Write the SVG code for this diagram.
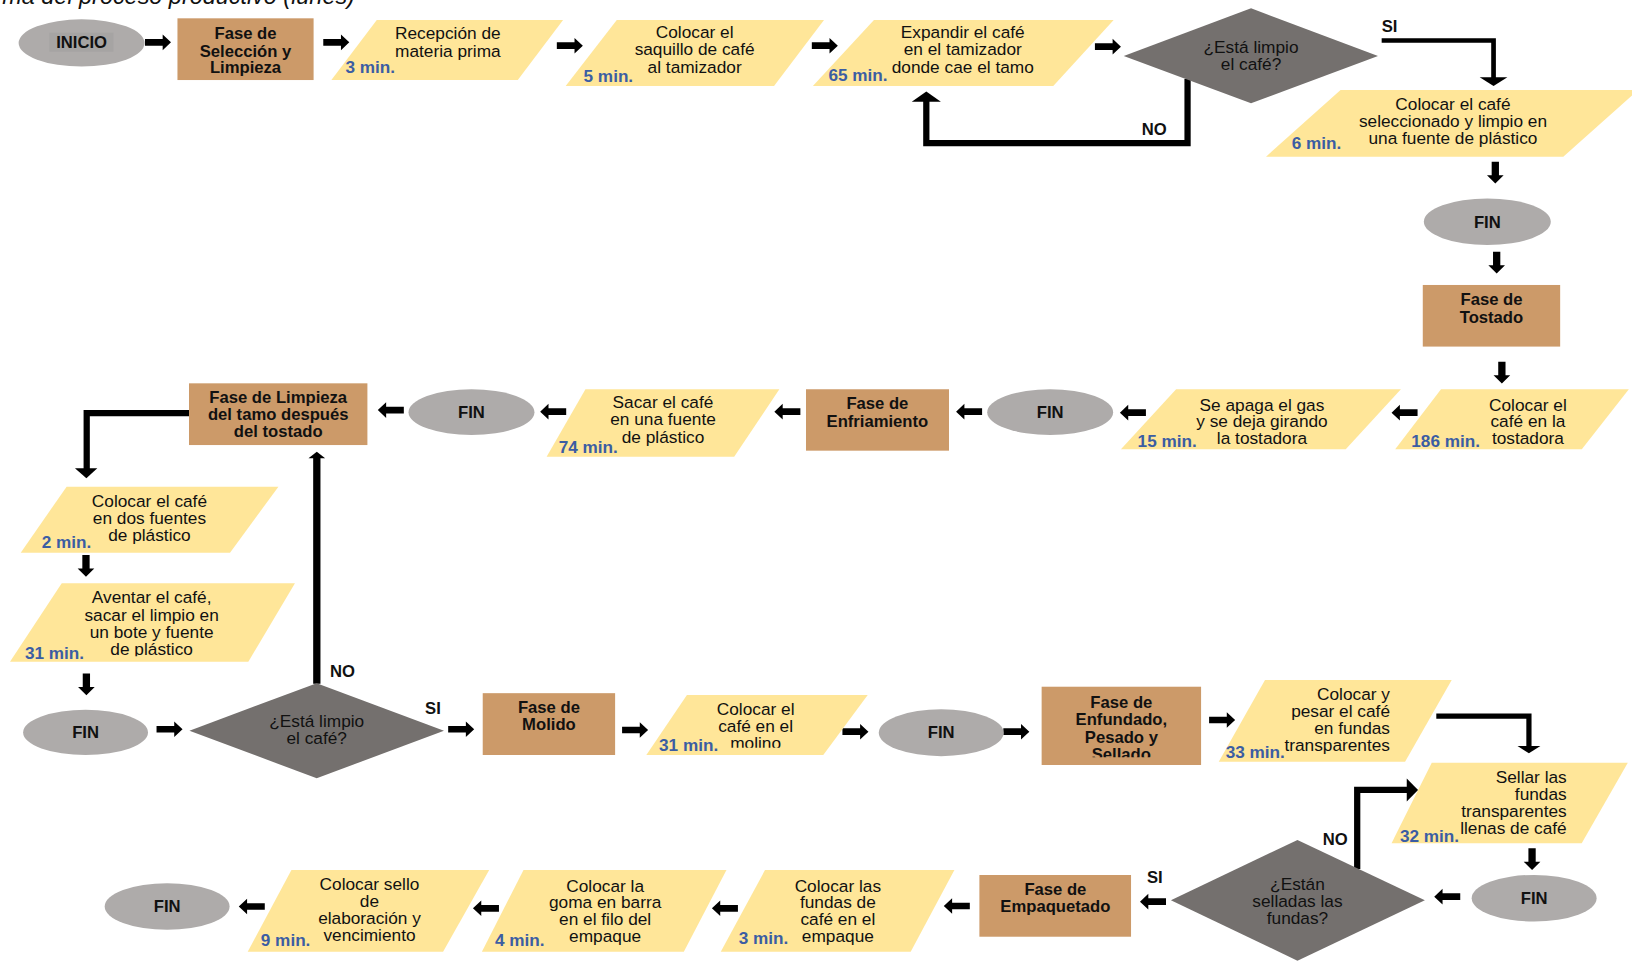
<svg xmlns="http://www.w3.org/2000/svg" width="1632" height="961" viewBox="0 0 1632 961">
<style>
.para{fill:#FFE699}
.box{fill:#CC9A69}
.ell{fill:#AEABAA}
.dia{fill:#74706E}
text{font-family:"Liberation Sans",Arial,Helvetica,sans-serif;fill:#111}
.t{font-size:16.6px;text-anchor:middle}
.te{font-size:16.6px;text-anchor:end}
.b{font-size:16px;font-weight:bold;text-anchor:middle}
.m{font-size:16.5px;font-weight:bold;fill:#3B5DA3}
.lbl{font-size:16px;font-weight:bold}
.ttl{font-size:22.5px;font-style:italic;text-anchor:end}
.ln{fill:none;stroke:#000;stroke-width:6}
.ah{fill:#000}
</style>
<defs>
<path id="aR" d="M0,-3.2 H17 V-7.5 L25,0 L17,7.5 V3.2 H0 Z"/>
<path id="aL" d="M25,-3.2 H8 V-7.5 L0,0 L8,7.5 V3.2 H25 Z"/>
<path id="aD" d="M-3.5,0 V13 H-8 L0,21 L8,13 H3.5 V0 Z"/>
<clipPath id="c1"><rect x="0" y="0" width="1568" height="630.5"/></clipPath>
<clipPath id="c2"><rect x="0" y="0" width="1568" height="718.5"/></clipPath>
<clipPath id="c3"><rect x="0" y="0" width="1568" height="727.6"/></clipPath>
</defs>
<rect x="0" y="0" width="1632" height="961" fill="#fff"/>
<g transform="scale(1.0408)">
<text class="ttl" x="341" y="3.8">ma del proceso productivo (lunes)</text>

<g id="connectors">
<use href="#aR" x="139.3" y="40.7"/>
<use href="#aR" x="310.6" y="40.7"/>
<use href="#aR" x="535" y="43.9"/>
<use href="#aR" x="780" y="43.9"/>
<use href="#aR" x="1052" y="44.8"/>
<use href="#aR" x="150.4" y="700.7"/>
<use href="#aR" x="430.6" y="700.7"/>
<use href="#aR" x="597.7" y="701.4"/>
<use href="#aR" x="809.4" y="703"/>
<use href="#aR" x="964" y="703"/>
<use href="#aR" x="1161.7" y="691.8"/>
<use href="#aL" x="1337" y="396.5"/>
<use href="#aL" x="1076" y="396.5"/>
<use href="#aL" x="918.6" y="395.5"/>
<use href="#aL" x="744" y="395.5"/>
<use href="#aL" x="519" y="395.5"/>
<use href="#aL" x="363" y="394"/>
<use href="#aL" x="1378" y="861.5"/>
<use href="#aL" x="1095.3" y="866.3"/>
<use href="#aL" x="906.8" y="870.5"/>
<use href="#aL" x="684" y="872.7"/>
<use href="#aL" x="454.4" y="872.7"/>
<use href="#aL" x="229.4" y="871"/>
<use href="#aD" x="1436.7" y="155.3"/>
<use href="#aD" x="1438" y="241.8"/>
<use href="#aD" x="1443" y="347.5"/>
<use href="#aD" x="82.6" y="533.2"/>
<use href="#aD" x="83" y="647"/>
<use href="#aD" x="1472" y="815"/>
<path class="ln" style="stroke-width:4.5" d="M1327.5,38.9 H1435 V75"/>
<polygon class="ah" points="1421.7,74.3 1448.3,74.3 1435,82.6"/>
<path class="ln" d="M1141,76 V137.4 H890 V97"/>
<polygon class="ah" points="876,97.7 904,97.7 890,88"/>
<path class="ln" d="M181.6,397 H83.3 V451"/>
<polygon class="ah" points="72,450 93.5,450 83,459.6"/>
<path class="ln" style="stroke-width:7" d="M304.4,657 V440"/>
<polygon class="ah" points="296.4,440.4 312.4,440.4 304.4,434"/>
<path class="ln" style="stroke-width:5" d="M1380,688 H1469 V717"/>
<polygon class="ah" points="1458,716.8 1480,716.8 1469,723.7"/>
<path class="ln" d="M1304,835 V759 H1352"/>
<polygon class="ah" points="1351.6,748 1351.6,770 1362.5,759"/>
<text class="lbl" x="1327.5" y="30.4">SI</text>
<text class="lbl" x="1097" y="129.7">NO</text>
<text class="lbl" x="317" y="650">NO</text>
<text class="lbl" x="408.4" y="686.3">SI</text>
<text class="lbl" x="1271" y="811.9">NO</text>
<text class="lbl" x="1102" y="848.7">SI</text>
</g>

<g id="n-inicio">
<ellipse class="ell" cx="78.4" cy="41.3" rx="60.5" ry="22.7"/>
<rect x="47.4" y="31.4" width="61.6" height="18.3" fill="#A6A4A3"/>
<text class="b" x="78.4" y="46.2">INICIO</text>
</g>
<g id="n-fase-seleccion">
<rect class="box" x="170.5" y="17.6" width="130.8" height="59.3"/>
<text class="b" x="235.9" y="37.8">Fase de</text>
<text class="b" x="235.9" y="54.3">Selección y</text>
<text class="b" x="235.9" y="70.3">Limpieza</text>
</g>
<g id="n-recepcion">
<polygon class="para" points="362,19.2 541,19.2 497.5,76.9 318.4,76.9"/>
<text class="t" x="430.3" y="37.8">Recepción de</text>
<text class="t" x="430.3" y="54.3">materia prima</text>
<text class="m" x="332" y="70">3 min.</text>
</g>
<g id="n-saquillo">
<polygon class="para" points="592.6,19.2 791.7,19.2 743.7,82.6 543.5,82.6"/>
<text class="t" x="667.4" y="36.8">Colocar el</text>
<text class="t" x="667.4" y="53.3">saquillo de café</text>
<text class="t" x="667.4" y="69.8">al tamizador</text>
<text class="m" x="560.7" y="78.5">5 min.</text>
</g>
<g id="n-expandir">
<polygon class="para" points="839.7,19.2 1070,19.2 1012,82.6 781,82.6"/>
<text class="t" x="925" y="36.8">Expandir el café</text>
<text class="t" x="925" y="53.3">en el tamizador</text>
<text class="t" x="925" y="69.8">donde cae el tamo</text>
<text class="m" x="796" y="78">65 min.</text>
</g>
<g id="n-limpio1">
<polygon class="dia" points="1079.7,53.8 1202,8 1324,53.8 1202,99.3"/>
<text class="t" x="1202" y="51.2">¿Está limpio</text>
<text class="t" x="1202" y="67.3">el café?</text>
</g>
<g id="n-fuente">
<polygon class="para" points="1288,86.5 1574,86.5 1502,150.5 1216.4,150.5"/>
<text class="t" x="1396" y="105.7">Colocar el café</text>
<text class="t" x="1396" y="122.3">seleccionado y limpio en</text>
<text class="t" x="1396" y="138.4">una fuente de plástico</text>
<text class="m" x="1241" y="143.5">6 min.</text>
</g>
<g id="n-fin1">
<ellipse class="ell" cx="1429" cy="213" rx="61" ry="22.4"/>
<text class="b" x="1429" y="218.7">FIN</text>
</g>
<g id="n-fase-tostado">
<rect class="box" x="1367" y="273.8" width="132" height="59.2"/>
<text class="b" x="1433" y="293">Fase de</text>
<text class="b" x="1433" y="310">Tostado</text>
</g>
<g id="n-tostadora">
<polygon class="para" points="1384.5,374 1565,374 1519.8,431.7 1340.5,431.7"/>
<text class="t" x="1468" y="394.6">Colocar el</text>
<text class="t" x="1468" y="410.6">café en la</text>
<text class="t" x="1468" y="426.6">tostadora</text>
<text class="m" x="1356" y="429.2">186 min.</text>
</g>
<g id="n-gas">
<polygon class="para" points="1130,374 1346,374 1293,431.7 1077,431.7"/>
<text class="t" x="1212.5" y="394.6">Se apaga el gas</text>
<text class="t" x="1212.5" y="410.6">y se deja girando</text>
<text class="t" x="1212.5" y="426.6">la tostadora</text>
<text class="m" x="1093" y="429.2">15 min.</text>
</g>
<g id="n-fin2">
<ellipse class="ell" cx="1009" cy="396" rx="60.5" ry="22"/>
<text class="b" x="1009" y="401.5">FIN</text>
</g>
<g id="n-fase-enfriamiento">
<rect class="box" x="774.4" y="374" width="137.4" height="59"/>
<text class="b" x="843" y="393.3">Fase de</text>
<text class="b" x="843" y="410">Enfriamiento</text>
</g>
<g id="n-sacar">
<polygon class="para" points="562.5,374 748.8,374 705.4,438.8 525.2,438.8"/>
<text class="t" x="637" y="392.3">Sacar el café</text>
<text class="t" x="637" y="408.8">en una fuente</text>
<text class="t" x="637" y="425.3">de plástico</text>
<text class="m" x="536.8" y="435.5">74 min.</text>
</g>
<g id="n-fin3">
<ellipse class="ell" cx="453" cy="396" rx="60.5" ry="22"/>
<text class="b" x="453" y="401.5">FIN</text>
</g>
<g id="n-fase-limpieza-tamo">
<rect class="box" x="181.6" y="368.3" width="171.4" height="59.3"/>
<text class="b" x="267.3" y="387.5">Fase de Limpieza</text>
<text class="b" x="267.3" y="403.5">del tamo después</text>
<text class="b" x="267.3" y="419.6">del tostado</text>
</g>
<g id="n-dos-fuentes">
<polygon class="para" points="64,467.6 267.5,467.6 221,531 19.9,531"/>
<text class="t" x="143.6" y="486.8">Colocar el café</text>
<text class="t" x="143.6" y="503.3">en dos fuentes</text>
<text class="t" x="143.6" y="519.5">de plástico</text>
<text class="m" x="40" y="526.8">2 min.</text>
</g>
<g id="n-aventar">
<polygon class="para" points="59.3,560.5 283.4,560.5 238.6,635.7 9.6,635.7"/>
<text class="t" x="145.7" y="579.7">Aventar el café,</text>
<text class="t" x="145.7" y="596.3">sacar el limpio en</text>
<text class="t" x="145.7" y="612.7">un bote y fuente</text>
<text class="t" x="145.7" y="629.2" clip-path="url(#c1)">de plástico</text>
<text class="m" x="24" y="633.5">31 min.</text>
</g>
<g id="n-fin4">
<ellipse class="ell" cx="82.2" cy="703.7" rx="60" ry="21.7"/>
<text class="b" x="82.2" y="709.2">FIN</text>
</g>
<g id="n-limpio2">
<polygon class="dia" points="182,702 304.3,656.5 426.6,702 304.3,747.8"/>
<text class="t" x="304.3" y="698.2">¿Está limpio</text>
<text class="t" x="304.3" y="715.3">el café?</text>
</g>
<g id="n-fase-molido">
<rect class="box" x="463.8" y="666" width="127.2" height="59.4"/>
<text class="b" x="527.4" y="685.4">Fase de</text>
<text class="b" x="527.4" y="701.4">Molido</text>
</g>
<g id="n-molino">
<polygon class="para" points="660,667.8 833.7,667.8 791,725.4 621,725.4"/>
<text class="t" x="726" y="687">Colocar el</text>
<text class="t" x="726" y="703.3">café en el</text>
<text class="t" x="726" y="720" clip-path="url(#c2)">molino</text>
<text class="m" x="633.2" y="721.2">31 min.</text>
</g>
<g id="n-fin5">
<ellipse class="ell" cx="904.3" cy="704" rx="60" ry="22.5"/>
<text class="b" x="904.3" y="709.5">FIN</text>
</g>
<g id="n-fase-enfundado">
<rect class="box" x="1000.8" y="659.8" width="153.2" height="75.2"/>
<text class="b" x="1077.4" y="680.6">Fase de</text>
<text class="b" x="1077.4" y="697">Enfundado,</text>
<text class="b" x="1077.4" y="713.5">Pesado y</text>
<text class="b" x="1077.4" y="730" clip-path="url(#c3)">Sellado</text>
</g>
<g id="n-pesar">
<polygon class="para" points="1215.4,653.4 1394.8,653.4 1350,731.8 1171,731.8"/>
<text class="te" x="1335.5" y="672.6">Colocar y</text>
<text class="te" x="1335.5" y="689.2">pesar el café</text>
<text class="te" x="1335.5" y="705.4">en fundas</text>
<text class="te" x="1335.5" y="721.6">transparentes</text>
<text class="m" x="1177.7" y="728.6">33 min.</text>
</g>
<g id="n-sellar">
<polygon class="para" points="1375.6,732.8 1564,732.8 1519.7,810.3 1337,810.3"/>
<text class="te" x="1505.3" y="752">Sellar las</text>
<text class="te" x="1505.3" y="768.3">fundas</text>
<text class="te" x="1505.3" y="784.7">transparentes</text>
<text class="te" x="1505.3" y="800.9">llenas de café</text>
<text class="m" x="1345" y="808.7">32 min.</text>
</g>
<g id="n-fin6">
<ellipse class="ell" cx="1474" cy="863" rx="60" ry="22.4"/>
<text class="b" x="1474" y="868.5">FIN</text>
</g>
<g id="n-selladas">
<polygon class="dia" points="1125,865 1246.6,807 1369,865 1246.6,923"/>
<text class="t" x="1246.6" y="855.1">¿Están</text>
<text class="t" x="1246.6" y="871.6">selladas las</text>
<text class="t" x="1246.6" y="887.8">fundas?</text>
</g>
<g id="n-fase-empaquetado">
<rect class="box" x="941" y="840.7" width="145.7" height="59.3"/>
<text class="b" x="1014" y="860">Fase de</text>
<text class="b" x="1014" y="876">Empaquetado</text>
</g>
<g id="n-fundas-empaque">
<polygon class="para" points="735,836 917,836 875,914.4 692.5,914.4"/>
<text class="t" x="805" y="856.7">Colocar las</text>
<text class="t" x="805" y="872.8">fundas de</text>
<text class="t" x="805" y="888.8">café en el</text>
<text class="t" x="805" y="904.8">empaque</text>
<text class="m" x="709.7" y="907.3">3 min.</text>
</g>
<g id="n-goma">
<polygon class="para" points="503,836 698,836 657,914.4 463,914.4"/>
<text class="t" x="581.4" y="856.7">Colocar la</text>
<text class="t" x="581.4" y="872.8">goma en barra</text>
<text class="t" x="581.4" y="888.8">en el filo del</text>
<text class="t" x="581.4" y="904.8">empaque</text>
<text class="m" x="475.5" y="909">4 min.</text>
</g>
<g id="n-sello">
<polygon class="para" points="280,836 470,836 425.7,914.4 238,914.4"/>
<text class="t" x="355" y="855.5">Colocar sello</text>
<text class="t" x="355" y="871.8">de</text>
<text class="t" x="355" y="888">elaboración y</text>
<text class="t" x="355" y="904.2">vencimiento</text>
<text class="m" x="250.6" y="909">9 min.</text>
</g>
<g id="n-fin7">
<ellipse class="ell" cx="160.6" cy="871" rx="60" ry="22.4"/>
<text class="b" x="160.6" y="876.5">FIN</text>
</g>
</g>
</svg>
